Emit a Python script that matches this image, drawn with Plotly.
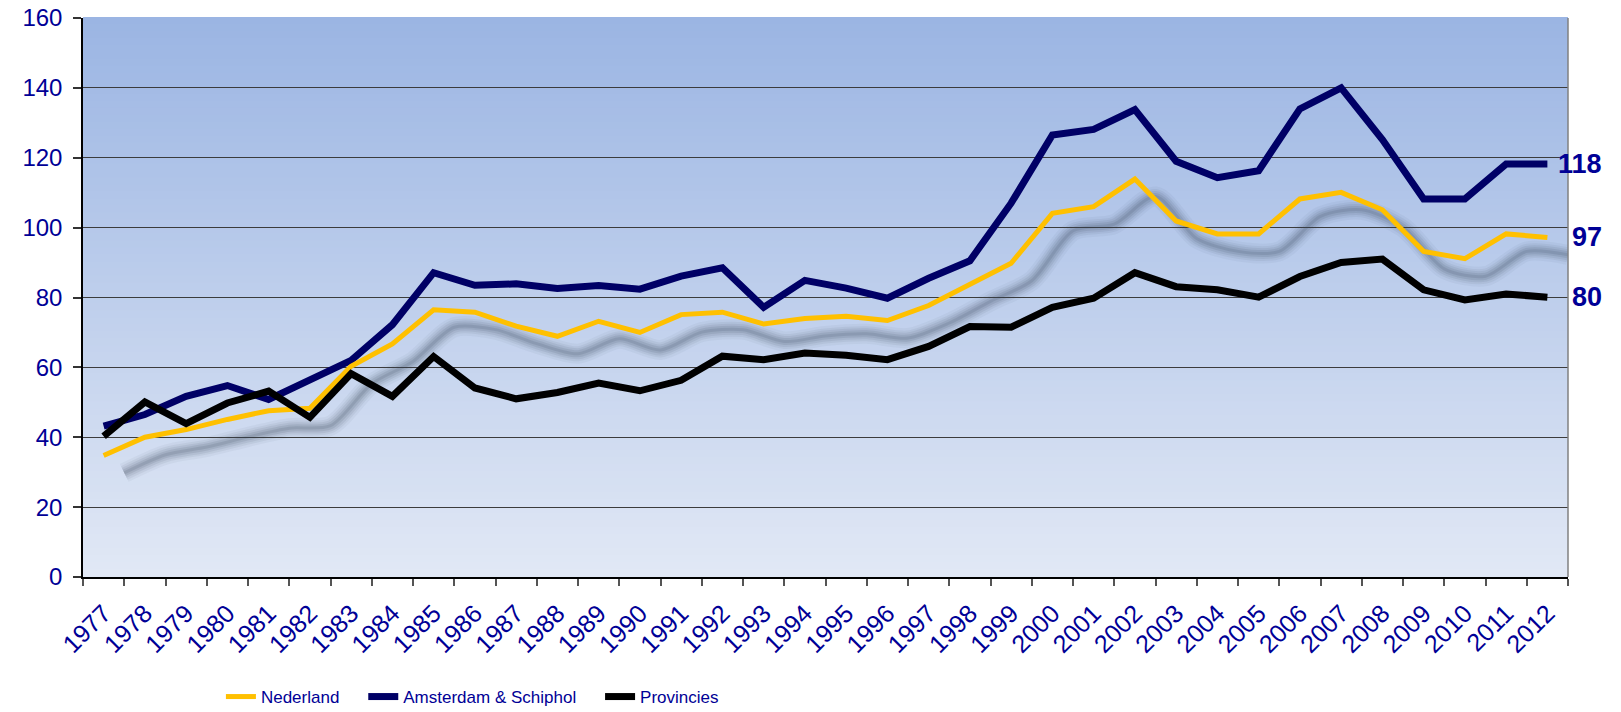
import plotly.graph_objects as go

years = list(range(1977, 2013))
nederland = [34.8, 40.0, 42.2, 45.1, 47.6, 48.3, 60.3, 66.7, 76.5,
             75.8, 71.8, 68.9, 73.2, 70.0, 75.1, 75.8, 72.4, 74.0,
             74.6, 73.4, 77.7, 83.9, 89.8, 104.1, 106.0, 113.9, 101.9,
             98.2, 98.2, 108.2, 110.1, 105.1, 93.2, 91.1, 98.2, 97.2]
amsterdam = [43.2, 46.5, 51.7, 54.8, 50.8, 56.3, 62.0, 72.2, 87.1,
             83.5, 83.9, 82.6, 83.4, 82.4, 86.1, 88.5, 77.2, 84.9,
             82.7, 79.8, 85.5, 90.5, 107.0, 126.5, 128.1, 133.8, 119.0,
             114.3, 116.3, 134.0, 140.0, 125.2, 108.2, 108.2, 118.2, 118.2]
provincies = [40.3, 50.1, 43.9, 49.8, 53.2, 45.7, 58.2, 51.7, 63.1,
              54.1, 51.0, 52.8, 55.5, 53.3, 56.3, 63.2, 62.2, 64.1,
              63.5, 62.2, 66.0, 71.7, 71.5, 77.2, 79.8, 87.1, 83.1,
              82.2, 80.1, 86.0, 90.0, 91.0, 82.2, 79.3, 81.0, 80.1]
names = ["Nederland", "Amsterdam & Schiphol", "Provincies"]
colors = ["#FFC000", "#000066", "#000000"]
widths = [5, 7, 7]

TXT = "#000096"
FONT = "Liberation Sans, Arial, sans-serif"
fig = go.Figure()

# soft drop shadow of the Nederland line
shadow_x = [y + 0.5 for y in years]
shadow_y = [v - 5 for v in nederland]
for w, a in [(20, 0.05), (15, 0.07), (11, 0.09), (7, 0.12), (3, 0.14)]:
    fig.add_trace(go.Scatter(x=shadow_x, y=shadow_y, mode="lines",
                             line=dict(color=f"rgba(60,70,90,{a})", width=w, shape="spline", smoothing=0.8),
                             showlegend=False, hoverinfo="skip"))

series = [amsterdam, nederland, provincies]
idx = [1, 0, 2]
for s, i in zip(series, idx):
    fig.add_trace(go.Scatter(x=years, y=s, mode="lines", name=names[i] + "\u00a0" * 4,
                             legendrank=i + 1,
                             line=dict(color=colors[i], width=widths[i])))
    fig.add_annotation(x=years[-1], y=s[-1], text=f"{round(s[-1])}", showarrow=False,
                       xanchor="right", yanchor="middle", xshift=57,
                       font=dict(family=FONT, size=27, color=TXT, weight="bold"))

# gradient background
top = (155, 181, 227)
bot = (225, 232, 245)
n = 80
shapes = []
for k in range(n):
    t = k / (n - 1)
    c = tuple(round(top[j] + (bot[j] - top[j]) * t) for j in range(3))
    shapes.append(dict(type="rect", xref="x domain", yref="y domain",
                       x0=0, x1=1, y0=1 - (k + 1) / n, y1=1 - k / n + 0.002,
                       fillcolor=f"rgb{c}", line=dict(width=0), layer="below"))
shapes.append(dict(type="line", xref="x domain", yref="y domain", x0=1, x1=1, y0=0, y1=1,
                   line=dict(color="#808080", width=1.5), layer="above"))

fig.update_layout(
    width=1613, height=704,
    margin=dict(l=75, r=53, t=10, b=135, autoexpand=False),
    paper_bgcolor="white", plot_bgcolor="rgba(0,0,0,0)",
    shapes=shapes,
    showlegend=True,
    legend=dict(orientation="h", xref="container", yref="container",
                x=0.132, y=0.0213, xanchor="left", yanchor="middle",
                bgcolor="rgba(0,0,0,0)", traceorder="normal",
                font=dict(family=FONT, size=17, color=TXT)),
    xaxis=dict(range=[years[0] - 0.5, years[-1] + 0.5], tickmode="array", tickvals=years,
               ticktext=[str(y) for y in years], tickangle=-45, automargin=False,
               ticks="outside", ticklen=7, tickcolor="rgba(0,0,0,0)",
               ticklabelstandoff=3,
               minor=dict(ticks="outside", ticklen=7, tickcolor="#555555", tickwidth=1.5,
                          tick0=years[0] - 0.5, dtick=1, showgrid=False),
               showline=True, linecolor="black", linewidth=1.5, showgrid=False, zeroline=False,
               tickfont=dict(family=FONT, size=25, color=TXT)),
    yaxis=dict(range=[0, 160], dtick=20, ticks="outside", ticklen=8, tickcolor="#333333", tickwidth=1.5,
               showline=True, linecolor="black", linewidth=1.5, zeroline=False, automargin=False,
               showgrid=True, gridcolor="#3c3c3c", gridwidth=1.2,
               ticklabelstandoff=6, ticklabeloverflow="allow",
               tickfont=dict(family=FONT, size=24, color=TXT)),
)

fig.write_html("out.html")
